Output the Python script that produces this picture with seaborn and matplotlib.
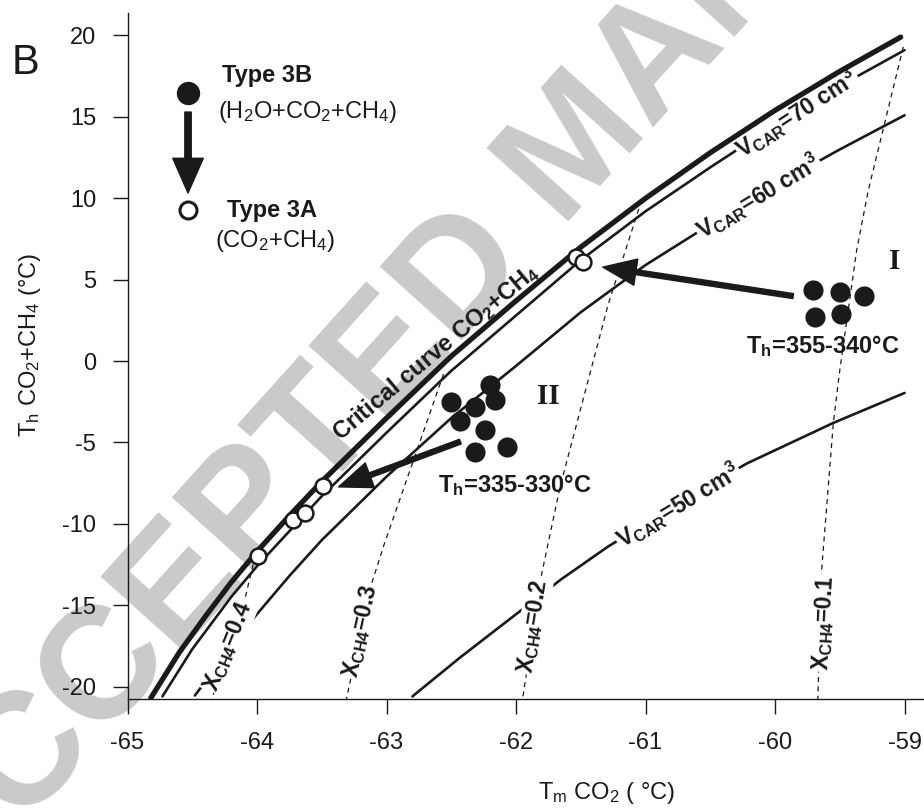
import matplotlib
matplotlib.use("Agg")
import matplotlib.pyplot as plt
import seaborn as sns

# ---------------- data ----------------
crit_x = [-64.82, -64.6, -64.4, -64.2, -64.0, -63.75, -63.5, -63.0, -62.5, -62.0, -61.5, -61.0, -60.5, -60.0, -59.5, -59.03]
crit_y = [-20.7, -17.9, -15.7, -13.6, -11.7, -9.5, -7.4, -3.5, 0.3, 3.7, 7.0, 10.0, 12.8, 15.4, 17.8, 19.9]

v70_x = [-64.73, -64.5, -64.2, -64.0, -63.5, -63.0, -62.5, -62.0, -61.5, -61.0, -60.5, -60.0, -59.5, -59.0]
v70_y = [-20.6, -17.7, -14.5, -12.6, -8.3, -4.4, -0.6, 2.8, 6.2, 9.2, 11.9, 14.5, 16.9, 19.1]

v60_x = [-64.48, -64.07, -63.75, -63.5, -63.0, -62.5, -62.0, -61.5, -61.0, -60.5, -60.0, -59.5, -59.0]
v60_y = [-20.55, -16.2, -13.2, -11.0, -7.1, -3.5, -0.3, 3.0, 5.9, 8.4, 10.8, 13.0, 15.1]

v50_x = [-62.80, -62.43, -61.65, -61.29, -60.8, -60.22, -59.55, -59.0]
v50_y = [-20.6, -18.2, -13.4, -11.4, -9.0, -6.3, -3.8, -1.96]

x01_x = [-59.01, -59.28, -59.37, -59.50, -59.55, -59.64, -59.67]
x01_y = [19.3, 10.5, 6.8, -0.55, -3.8, -12.8, -20.78]
x02_x = [-61.03, -61.29, -61.66, -61.80, -61.95]
x02_y = [9.9, 3.44, -7.73, -13.0, -20.78]
x03_x = [-62.56, -63.02, -63.13, -63.31]
x03_y = [-0.8, -11.3, -14.05, -20.78]
x04_x = [-64.03, -64.09, -64.35]
x04_y = [-12.5, -14.5, -20.78]

open_x = [-63.99, -63.72, -63.63, -63.49, -61.54, -61.48]
open_y = [-12.0, -9.75, -9.33, -7.67, 6.38, 6.1]

groupI_x = [-59.71, -59.50, -59.31, -59.69, -59.49]
groupI_y = [4.36, 4.25, 3.99, 2.72, 2.87]
groupII_x = [-62.50, -62.20, -62.16, -62.32, -62.43, -62.24, -62.32, -62.07]
groupII_y = [-2.50, -1.47, -2.39, -2.82, -3.68, -4.23, -5.58, -5.28]

xticks = [-65, -64, -63, -62, -61, -60, -59]
yticks = [-20, -15, -10, -5, 0, 5, 10, 15, 20]

# ---------------- style ----------------
sns.set_style("ticks")
plt.rcParams["font.family"] = ["Liberation Sans", "DejaVu Sans"]
plt.rcParams["mathtext.fontset"] = "custom"
plt.rcParams["mathtext.rm"] = "Liberation Sans"
plt.rcParams["mathtext.it"] = "Liberation Sans:italic"
plt.rcParams["mathtext.bf"] = "Liberation Sans:bold"
plt.rcParams["axes.unicode_minus"] = False

INK = "#1a1a1a"
FS = 17
LFS = 16.5

fig = plt.figure(figsize=(9.24, 8.10), dpi=100)
L, R, T, B = 127.5, 924.0, 12.7, 699.3
ax = fig.add_axes([L / 924, 1 - B / 810, (R - L) / 924, (B - T) / 810])
ax.set_facecolor("none")

# watermark (light grey, under everything)
ax.text(0.626, 0.817, "ACCEPTED MANUSCRIPT", transform=fig.transFigure,
        rotation=48, rotation_mode="anchor", ha="center", va="center",
        fontsize=115, fontweight="bold", color="#c9cacc", zorder=0.5, clip_on=False)

def draw_line(x, y, lw, ls="-", z=2):
    sns.lineplot(x=x, y=y, sort=False, estimator=None, ax=ax, color=INK,
                 lw=lw, linestyle=ls, zorder=z)

dash = (0, (4, 3.5))
for xx, yy in [(x01_x, x01_y), (x02_x, x02_y), (x03_x, x03_y), (x04_x, x04_y)]:
    draw_line(xx, yy, 0.9, dash, 2)
draw_line(v50_x, v50_y, 1.9)
draw_line(v60_x, v60_y, 1.9)
draw_line(v70_x, v70_y, 1.9)
draw_line(crit_x, crit_y, 3.8, "-", 4)

sns.scatterplot(x=open_x, y=open_y, s=130, color="white", edgecolor=INK,
                linewidth=1.8, ax=ax, zorder=6)
sns.scatterplot(x=groupI_x, y=groupI_y, s=210, color=INK, edgecolor=INK,
                linewidth=0, ax=ax, zorder=6)
sns.scatterplot(x=groupII_x, y=groupII_y, s=210, color=INK, edgecolor=INK,
                linewidth=0, ax=ax, zorder=6)

# arrows from the groups to the critical curve
arw = dict(facecolor=INK, edgecolor=INK, width=3.6, headwidth=19, headlength=24, shrink=0)
ax.annotate("", xy=(-61.33, 5.77), xytext=(-59.86, 3.99), arrowprops=arw, zorder=5)
ax.annotate("", xy=(-63.37, -7.73), xytext=(-62.43, -4.95), arrowprops=arw, zorder=5)

# labels on the lines (white box breaks the line)
box = dict(fc="white", ec="none", pad=1.0)
def lab(x, y, s, rot, z=3, bbox=True, fs=LFS):
    ax.text(x, y, s, rotation=rot, rotation_mode="anchor", ha="center", va="center",
            fontsize=fs, fontweight="bold", color=INK, zorder=z,
            bbox=box if bbox else None)

lab(-59.83, 15.2, r"V$_{\mathbf{CAR}}$=70 cm$^{\mathbf{3}}$", 33)
lab(-60.13, 10.1, r"V$_{\mathbf{CAR}}$=60 cm$^{\mathbf{3}}$", 31)
lab(-60.75, -8.85, r"V$_{\mathbf{CAR}}$=50 cm$^{\mathbf{3}}$", 31)
lab(-59.62, -16.1, r"X$_{\mathbf{CH4}}$=0.1", 87)
lab(-61.87, -16.3, r"X$_{\mathbf{CH4}}$=0.2", 81)
lab(-63.20, -16.6, r"X$_{\mathbf{CH4}}$=0.3", 78)
lab(-64.22, -17.5, r"X$_{\mathbf{CH4}}$=0.4", 68)
lab(-62.62, 0.55, r"Critical curve CO$_{\mathbf{2}}$+CH$_{\mathbf{4}}$", 40, z=3, bbox=False, fs=FS)

ax.text(-59.63, 0.49, r"T$_{\mathbf{h}}$=355-340°C", ha="center", va="baseline",
        fontsize=FS, fontweight="bold", color=INK, zorder=3)
ax.text(-62.01, -8.04, r"T$_{\mathbf{h}}$=335-330°C", ha="center", va="baseline",
        fontsize=FS, fontweight="bold", color=INK, zorder=3)
ax.text(-59.08, 6.1, "I", family="Liberation Serif", fontweight="bold", fontsize=21,
        ha="center", va="center", color=INK)
ax.text(-61.75, -2.15, "II", family="Liberation Serif", fontweight="bold", fontsize=21,
        ha="center", va="center", color=INK)

# legend block (axes fraction)
ax.scatter([0.076], [0.883], s=250, color=INK, transform=ax.transAxes, clip_on=False, zorder=6)
ax.scatter([0.076], [0.7126], s=150, color="white", edgecolor=INK, linewidth=2.2,
           transform=ax.transAxes, clip_on=False, zorder=6)
ax.annotate("", xy=(0.076, 0.7374), xytext=(0.076, 0.8553), xycoords="axes fraction",
            textcoords="axes fraction",
            arrowprops=dict(facecolor=INK, edgecolor=INK, width=4.6, headwidth=22,
                            headlength=25, shrink=0))
ax.text(0.1186, 0.8995, "Type 3B", transform=ax.transAxes, fontsize=FS, fontweight="bold",
        va="baseline", ha="left", color=INK)
ax.text(0.1136, 0.8466, r"(H$_2$O+CO$_2$+CH$_4$)", transform=ax.transAxes, fontsize=FS,
        va="baseline", ha="left", color=INK)
ax.text(0.1249, 0.7029, "Type 3A", transform=ax.transAxes, fontsize=FS, fontweight="bold",
        va="baseline", ha="left", color=INK)
ax.text(0.1099, 0.6592, r"(CO$_2$+CH$_4$)", transform=ax.transAxes, fontsize=FS,
        va="baseline", ha="left", color=INK)

fig.text(0.013, 0.922, "B", fontsize=30, va="center", ha="left", color=INK)

# axes
ax.set_xlim(-65, -58.85)
ax.set_ylim(-20.78, 21.4)
ax.set_xticks(xticks)
ax.set_yticks(yticks)
ax.set_xticklabels([str(v) for v in xticks])
ax.set_yticklabels([str(v) for v in yticks])
sns.despine(ax=ax)
for sp in ["left", "bottom"]:
    ax.spines[sp].set_linewidth(1.0)
    ax.spines[sp].set_color(INK)
ax.tick_params(axis="both", direction="out", length=10.5, width=1.0, color=INK,
               labelsize=FS, labelcolor=INK)
ax.tick_params(axis="x", pad=13)
ax.tick_params(axis="y", pad=12)

ax.set_xlabel(r"T$_{\mathrm{m}}$ CO$_2$ ( °C)", fontsize=FS, color=INK)
ax.xaxis.set_label_coords(0.601, -0.117)
ax.set_ylabel(r"T$_{\mathrm{h}}$ CO$_2$+CH$_4$ (°C)", fontsize=FS, color=INK)
ax.yaxis.set_label_coords(-0.106, 0.516)

fig.savefig("out.png", dpi=100)
